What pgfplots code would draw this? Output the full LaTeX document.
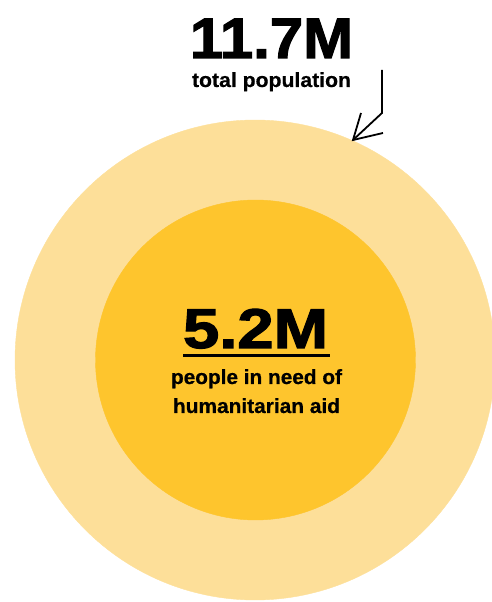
\documentclass[border=0pt]{standalone}
\usepackage{pgfplots}
\pgfplotsset{compat=1.18}
\usepackage{pgfplotstable}
\usepackage{graphicx}
\usepackage{fontspec}
\setmainfont{Liberation Sans}
\newfontfamily\heavy{Liberation Sans Bold}[FakeBold=2]
\newfontfamily\bodyf{Liberation Sans Bold}[FakeBold=0.6]
\definecolor{outerc}{RGB}{253,223,153}
\definecolor{innerc}{RGB}{254,197,45}

\pgfplotstableread{
x y v
255 242 11.7
}\outerdata
\pgfplotstableread{
x y v
255.5 242 5.2
}\innerdata

\begin{document}
\begin{tikzpicture}
\useasboundingbox (0,0) rectangle (492pt,602pt);
\begin{axis}[
  hide axis, scale only axis,
  width=492pt, height=602pt,
  xmin=0, xmax=492, ymin=0, ymax=602,
  at={(0,0)}, anchor=south west,
]
\addplot[scatter, only marks, mark=*,
  mark options={draw=outerc, fill=outerc},
  scatter/use mapped color={draw=outerc, fill=outerc},
  visualization depends on={70.16*sqrt(\thisrow{v}) \as \rad},
  scatter/@pre marker code/.append style={/tikz/mark size=\rad pt}]
  table[x=x, y=y] {\outerdata};
\addplot[scatter, only marks, mark=*,
  mark options={draw=innerc, fill=innerc},
  scatter/use mapped color={draw=innerc, fill=innerc},
  visualization depends on={70.16*sqrt(\thisrow{v}) \as \rad},
  scatter/@pre marker code/.append style={/tikz/mark size=\rad pt}]
  table[x=x, y=y] {\innerdata};

\coordinate (tA) at (axis cs:271.5,544);
\coordinate (tB) at (axis cs:271.5,515);
\coordinate (tC) at (axis cs:255.5,254);
\coordinate (uL) at (axis cs:183,246);
\coordinate (uR) at (axis cs:330,246);
\coordinate (tD) at (axis cs:256.5,218);
\coordinate (tE) at (axis cs:256.5,189);
\coordinate (a1) at (axis cs:382,532);
\coordinate (a2) at (axis cs:382,489);
\coordinate (a3) at (axis cs:353,462);
\coordinate (a4) at (axis cs:361,489);
\coordinate (a5) at (axis cs:383,469);
\end{axis}

\node[anchor=base, inner sep=0pt] at (tA)
  {\resizebox{163pt}{\height}{\heavy\fontsize{57}{57}\selectfont 11.7M}};
\node[anchor=base, inner sep=0pt] at (tB)
  {\resizebox{159pt}{\height}{\bodyf\fontsize{20.5}{20.5}\selectfont total population}};
\node[anchor=base, inner sep=0pt] at (tC)
  {\resizebox{145pt}{\height}{\heavy\fontsize{56}{56}\selectfont 5.2M}};
\draw[line width=3pt] (uL) -- (uR);
\node[anchor=base, inner sep=0pt] at (tD)
  {\resizebox{171pt}{\height}{\bodyf\fontsize{20.5}{20.5}\selectfont people in need of}};
\node[anchor=base, inner sep=0pt] at (tE)
  {\resizebox{167pt}{\height}{\bodyf\fontsize{20.5}{20.5}\selectfont humanitarian aid}};
\draw[line width=1.8pt, line join=miter] (a1) -- (a2) -- (a3);
\draw[line width=1.8pt, line join=miter] (a4) -- (a3) -- (a5);
\end{tikzpicture}
\end{document}
